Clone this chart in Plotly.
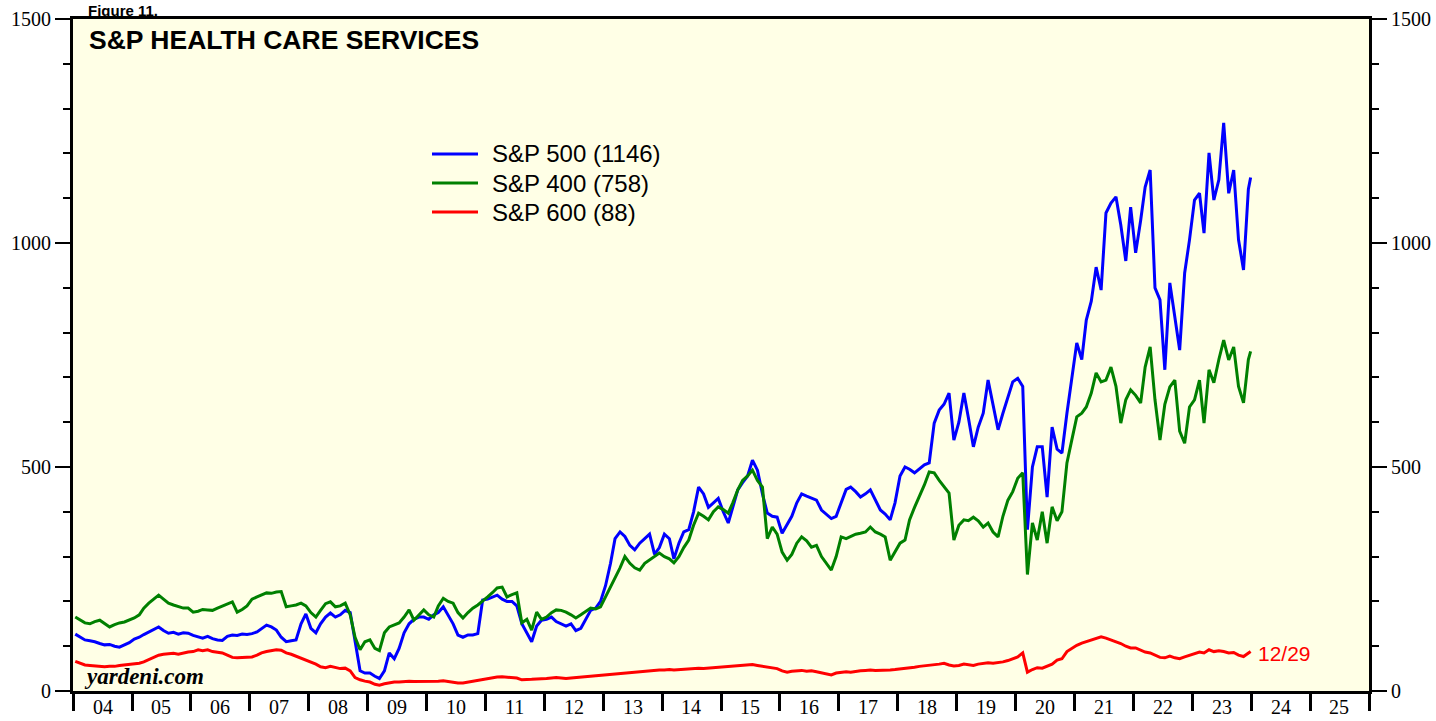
import pandas as pd
import plotly.graph_objects as go

# ---- data (monthly readings, Jan 2004 .. Dec 2023, plus last reading 12/29/2023) ----
sp500 = [
    127, 120, 114, 112, 110, 106, 103, 104, 100, 98, 103, 108,      # 2004
    116, 120, 126, 132, 138, 143, 135, 129, 131, 127, 130, 129,     # 2005
    124, 120, 118, 122, 117, 114, 113, 122, 125, 124, 127, 126,     # 2006
    128, 132, 140, 147, 143, 136, 120, 110, 112, 114, 150, 172,     # 2007
    140, 130, 150, 165, 174, 165, 170, 180, 175, 110, 45, 40,       # 2008
    40, 33, 28, 45, 85, 72, 95, 130, 150, 160, 165, 165,            # 2009
    160, 170, 175, 188, 170, 150, 125, 120, 125, 125, 128, 203,     # 2010
    205, 210, 214, 205, 200, 200, 190, 150, 130, 110, 145, 158,     # 2011
    160, 165, 155, 150, 145, 150, 135, 140, 160, 180, 185, 200,     # 2012
    235, 285, 340, 355, 345, 325, 315, 330, 340, 350, 305, 320,     # 2013
    350, 340, 295, 330, 355, 360, 400, 455, 440, 410, 420, 430,     # 2014
    400, 375, 410, 449, 465, 480, 515, 493, 440, 397, 390, 388,     # 2015
    352, 370, 390, 420, 440, 435, 430, 426, 404, 395, 385, 390,     # 2016
    420, 450, 455, 445, 433, 440, 449, 425, 404, 395, 382, 420,     # 2017
    480, 500, 495, 487, 495, 505, 509, 598, 627, 640, 665, 560,     # 2018
    600, 665, 610, 545, 589, 620, 694, 640, 583, 620, 656, 690,     # 2019
    698, 680, 360, 500, 545, 545, 433, 589, 540, 531, 620, 694,     # 2020
    777, 740, 828, 870, 946, 895, 1067, 1089, 1103, 1040, 960, 1080,  # 2021
    978, 1050, 1125, 1163, 900, 873, 717, 911, 835, 761, 933, 1007,   # 2022
    1096, 1111, 1022, 1201, 1096, 1141, 1268, 1111, 1163, 1007, 940, 1120,  # 2023
]
sp400 = [
    165, 158, 152, 150, 155, 158, 150, 143, 148, 152, 154, 158,     # 2004
    163, 170, 185, 196, 205, 214, 205, 196, 192, 188, 185, 185,     # 2005
    176, 178, 182, 181, 180, 185, 190, 195, 199, 176, 182, 190,     # 2006
    205, 210, 215, 219, 218, 221, 222, 188, 190, 192, 196, 190,     # 2007
    175, 165, 180, 195, 199, 188, 190, 196, 170, 120, 92, 110,      # 2008
    114, 95, 90, 130, 143, 148, 152, 165, 181, 158, 170, 181,       # 2009
    170, 165, 190, 207, 200, 196, 175, 163, 175, 185, 192, 200,     # 2010
    210, 220, 230, 232, 210, 215, 219, 152, 160, 136, 176, 160,     # 2011
    165, 175, 181, 180, 176, 170, 163, 170, 178, 185, 183, 188,     # 2012
    210, 232, 254, 275, 300, 285, 275, 270, 285, 292, 300, 308,     # 2013
    300, 295, 286, 300, 320, 337, 370, 397, 390, 382, 400, 411,     # 2014
    405, 397, 420, 449, 470, 480, 493, 470, 455, 340, 366, 350,     # 2015
    310, 292, 305, 330, 344, 335, 321, 325, 300, 285, 270, 300,     # 2016
    344, 340, 345, 350, 352, 355, 366, 355, 350, 344, 292, 310,     # 2017
    330, 337, 382, 410, 433, 460, 489, 487, 470, 455, 442, 337,     # 2018
    370, 382, 380, 388, 380, 366, 375, 355, 344, 390, 426, 445,     # 2019
    475, 487, 260, 375, 337, 400, 330, 411, 380, 400, 509, 560,     # 2020
    612, 620, 634, 665, 710, 690, 694, 723, 680, 598, 650, 672,     # 2021
    660, 643, 723, 768, 650, 560, 640, 679, 694, 580, 553, 634,     # 2022
    650, 694, 598, 717, 688, 740, 783, 739, 768, 680, 643, 740,     # 2023
]
sp600 = [
    66, 62, 58, 57, 56, 55, 54, 55, 55, 57, 58, 60,                 # 2004
    60, 62, 65, 70, 75, 80, 82, 83, 84, 82, 85, 87,                 # 2005
    88, 92, 90, 92, 88, 87, 85, 80, 75, 74, 75, 75,                 # 2006
    76, 80, 85, 88, 90, 92, 91, 85, 82, 78, 74, 70,                 # 2007
    65, 60, 54, 52, 55, 52, 50, 51, 45, 30, 25, 22,                 # 2008
    20, 15, 13, 16, 18, 20, 20, 21, 22, 21, 21, 22,                 # 2009
    22, 21, 22, 23, 21, 19, 18, 18, 20, 22, 24, 26,                 # 2010
    28, 30, 31, 32, 31, 30, 29, 25, 25, 26, 27, 27,                 # 2011
    28, 29, 30, 29, 28, 29, 30, 31, 32, 33, 34, 35,                 # 2012
    36, 37, 38, 40, 41, 42, 43, 44, 45, 46, 46, 47,                 # 2013
    47, 48, 47, 48, 49, 50, 50, 51, 50, 51, 52, 53,                 # 2014
    54, 55, 56, 57, 58, 58, 59, 57, 55, 53, 52, 50,                 # 2015
    45, 42, 44, 45, 46, 44, 45, 43, 41, 38, 36, 40,                 # 2016
    42, 43, 42, 44, 45, 46, 47, 46, 46, 47, 47, 48,                 # 2017
    49, 50, 52, 53, 55, 56, 57, 58, 60, 62, 58, 56,                 # 2018
    57, 60, 58, 57, 60, 62, 63, 62, 63, 65, 68, 72,                 # 2019
    76, 85, 42, 48, 52, 51, 55, 60, 69, 72, 88, 95,                 # 2020
    102, 107, 110, 115, 118, 121, 118, 114, 110, 106, 100, 96,      # 2021
    96, 92, 87, 85, 80, 75, 74, 78, 74, 72, 76, 80,                 # 2022
    84, 87, 85, 92, 88, 90, 88, 85, 86, 80, 77, 84,                 # 2023
]
last_date = "2023-12-29"
last_values = {"S&P 500": 1146, "S&P 400": 758, "S&P 600": 88}
year_labels = ["04", "05", "06", "07", "08", "09", "10", "11", "12", "13", "14",
               "15", "16", "17", "18", "19", "20", "21", "22", "23", "24", "25"]

dates = list(pd.date_range("2004-01-01", periods=len(sp500), freq="MS") + pd.Timedelta(days=14))
dates.append(pd.Timestamp(last_date))

series = [
    ("S&P 500", sp500, "#0000FF"),
    ("S&P 400", sp400, "#008000"),
    ("S&P 600", sp600, "#FF0000"),
]

# plot-area geometry in pixels (figure 1436 x 721)
L, R, T, B = 73, 1369, 19, 691
PW, PH = R - L, B - T
def px(xp):
    return (xp - L) / PW
def py(yp):
    return (B - yp) / PH

fig = go.Figure()
for name, vals, color in series:
    y = vals + [last_values[name]]
    fig.add_trace(go.Scatter(
        x=dates, y=y, mode="lines",
        name=f"{name} ({last_values[name]})",
        line=dict(color=color, width=3),
        showlegend=False,
    ))
# invisible trace for the right-hand axis
fig.add_trace(go.Scatter(x=[dates[0]], y=[0], yaxis="y2", mode="markers",
                         marker=dict(opacity=0), showlegend=False, hoverinfo="skip"))

serif = "Liberation Serif, Times New Roman, serif"
sans = "Liberation Sans, Arial, sans-serif"

year_ticks = [f"{2004 + i}-01-01" for i in range(len(year_labels) + 1)]
yaxis_common = dict(
    range=[0, 1500], tickvals=[0, 500, 1000, 1500], ticks="outside", ticklen=15,
    tickwidth=2, tickcolor="black", showgrid=False, zeroline=False,
    tickfont=dict(family=serif, size=20, color="black"),
    minor=dict(tickvals=list(range(0, 1501, 100)), ticks="outside", ticklen=7,
               tickwidth=2, tickcolor="black", showgrid=False),
    showline=True, linewidth=3, linecolor="black", automargin=False,
)

fig.update_layout(
    width=1436, height=721,
    margin=dict(l=L, r=1436 - R, t=T, b=721 - B, autoexpand=False),
    paper_bgcolor="white", plot_bgcolor="#FFFFE6",
    xaxis=dict(type="date", range=["2004-01-01", "2026-01-01"], tickvals=year_ticks,
               ticks="outside", ticklen=17, tickwidth=2.5, tickcolor="black",
               showticklabels=False, showgrid=False, zeroline=False, automargin=False,
               showline=True, linewidth=3, linecolor="black", mirror=True),
    yaxis=dict(side="left", **yaxis_common),
    yaxis2=dict(side="right", overlaying="y", **yaxis_common),
    showlegend=False,
)

annotations = []
shapes = []
for i, lab in enumerate(year_labels):
    annotations.append(dict(x=f"{2004 + i}-07-02", y=py(720), xref="x", yref="paper",
                            text=lab, showarrow=False, yanchor="bottom",
                            font=dict(family=serif, size=20, color="black")))

# legend drawn by hand (long line samples like the reference)
for k, (name, vals, color) in enumerate(series):
    yrow = 154 + 29 * k
    shapes.append(dict(type="line", xref="paper", yref="paper",
                       x0=px(432), x1=px(478), y0=py(yrow), y1=py(yrow),
                       line=dict(color=color, width=3)))
    annotations.append(dict(x=px(490), y=py(yrow), xref="paper", yref="paper",
                            text=f"{name} ({last_values[name]})", showarrow=False,
                            xanchor="left", yanchor="middle",
                            font=dict(family=sans, size=24, color="black")))

annotations += [
    dict(x=px(87), y=py(40), xref="paper", yref="paper", text="<b>S&P HEALTH CARE SERVICES</b>",
         showarrow=False, xanchor="left", yanchor="middle",
         font=dict(family=sans, size=26.5, color="black")),
    dict(x=px(86), y=py(0), xref="paper", yref="paper", text="<b>Figure 11.</b>",
         showarrow=False, xanchor="left", yanchor="top",
         font=dict(family=sans, size=15, color="black")),
    dict(x=px(82), y=py(676), xref="paper", yref="paper", text="<b><i>yardeni.com</i></b>",
         showarrow=False, xanchor="left", yanchor="middle",
         font=dict(family=serif, size=23, color="black")),
    dict(x=px(1256), y=py(653), xref="paper", yref="paper",
         text=last_date[5:7] + "/" + last_date[8:10],
         showarrow=False, xanchor="left", yanchor="middle",
         font=dict(family=sans, size=21, color="#FF0000")),
]
fig.update_layout(annotations=annotations, shapes=shapes)

# place the figure at the very top-left of the page (no default body margin)
fig.write_html("out.html",
               config={"displayModeBar": False},
               post_script="document.body.style.margin='0';document.body.style.overflow='hidden';")
